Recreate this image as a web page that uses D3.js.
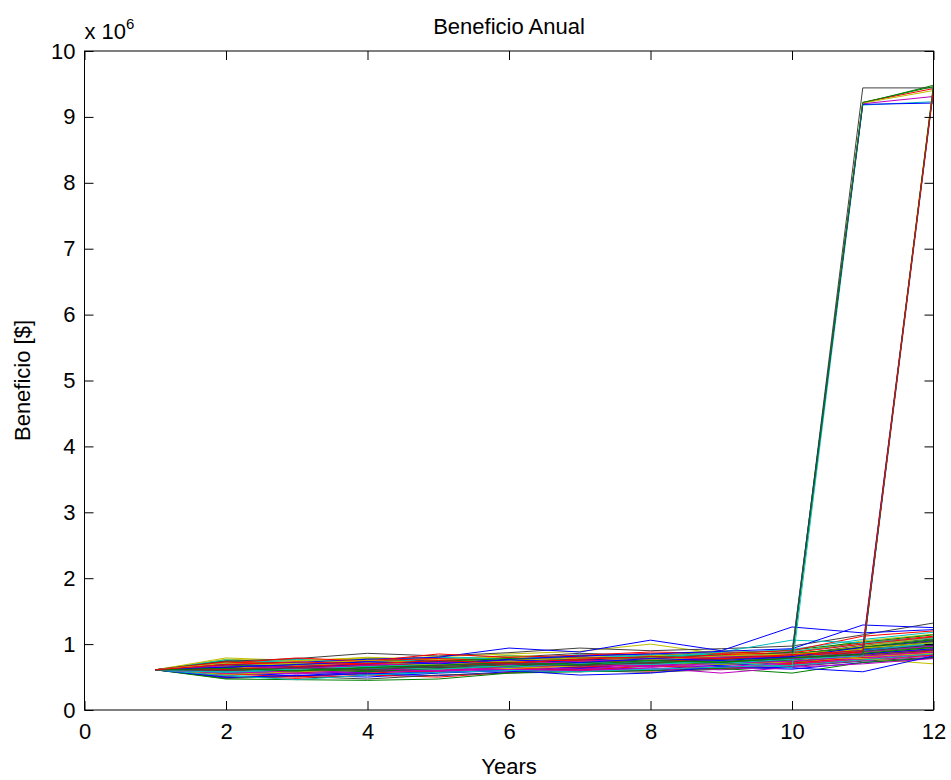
<!DOCTYPE html>
<html>
<head>
<meta charset="utf-8">
<script src="https://cdn.jsdelivr.net/npm/d3@7"></script>
<style>
  body { margin: 0; background: #fff; }
  text { font-family: "Liberation Sans", Arial, Helvetica, sans-serif; fill: #000; }
  .axis path.domain { display: none; }
  .axis line { stroke: #000; }
</style>
</head>
<body>
<div id="wrapper"></div>
<script>
// years on the x axis
const years = [1, 2, 3, 4, 5, 6, 7, 8, 9, 10, 11, 12]

// simulated runs, profit in millions of $ per year
const baseRuns = [
  [0.61,0.66,0.62,0.70,0.68,0.73,0.79,0.76,0.82,0.85,0.95,1.05],
  [0.61,0.58,0.63,0.60,0.66,0.71,0.68,0.74,0.72,0.78,0.86,0.93],
  [0.61,0.72,0.69,0.74,0.79,0.76,0.82,0.86,0.81,0.88,1.02,1.12],
  [0.61,0.52,0.56,0.54,0.59,0.63,0.61,0.66,0.70,0.67,0.76,0.84],
  [0.61,0.68,0.73,0.70,0.66,0.74,0.71,0.78,0.83,0.80,0.92,1.00],
  [0.61,0.63,0.58,0.64,0.70,0.67,0.73,0.70,0.76,0.82,0.89,0.97],
  [0.61,0.75,0.71,0.78,0.74,0.80,0.86,0.83,0.88,0.84,0.98,1.08],
  [0.61,0.49,0.53,0.50,0.56,0.60,0.65,0.62,0.68,0.72,0.80,0.88],
  [0.61,0.64,0.69,0.66,0.72,0.69,0.75,0.80,0.77,0.83,0.93,1.02],
  [0.61,0.60,0.56,0.62,0.58,0.65,0.70,0.67,0.73,0.76,0.84,0.91],
  [0.61,0.70,0.66,0.63,0.69,0.75,0.72,0.77,0.74,0.79,0.90,0.99],
  [0.61,0.55,0.60,0.57,0.63,0.59,0.64,0.69,0.66,0.71,0.79,0.86],
  [0.61,0.77,0.74,0.80,0.76,0.83,0.79,0.85,0.90,0.87,1.05,1.15],
  [0.61,0.62,0.67,0.72,0.68,0.64,0.70,0.75,0.80,0.77,0.87,0.95],
  [0.61,0.57,0.52,0.58,0.62,0.68,0.64,0.71,0.68,0.74,0.82,0.90],
  [0.61,0.67,0.64,0.69,0.73,0.70,0.76,0.73,0.79,0.86,0.94,1.03],
  [0.61,0.51,0.48,0.53,0.50,0.57,0.62,0.59,0.64,0.69,0.77,0.83],
  [0.61,0.73,0.77,0.72,0.78,0.82,0.78,0.84,0.80,0.89,1.00,1.09],
  [0.61,0.65,0.61,0.67,0.64,0.70,0.66,0.72,0.77,0.74,0.85,0.92],
  [0.61,0.59,0.64,0.61,0.67,0.63,0.69,0.66,0.71,0.75,0.83,0.89],
  [0.61,0.69,0.65,0.71,0.75,0.72,0.77,0.81,0.78,0.84,0.96,1.06],
  [0.61,0.54,0.59,0.55,0.52,0.58,0.63,0.60,0.65,0.62,0.72,0.79],
  [0.61,0.74,0.70,0.76,0.72,0.79,0.75,0.80,0.85,0.91,1.03,1.14],
  [0.61,0.61,0.57,0.63,0.67,0.62,0.68,0.71,0.75,0.72,0.81,0.87],
  [0.61,0.66,0.71,0.67,0.63,0.69,0.74,0.70,0.76,0.81,0.91,1.01],
  [0.61,0.56,0.61,0.65,0.61,0.66,0.62,0.68,0.64,0.70,0.78,0.85],
  [0.61,0.71,0.75,0.79,0.76,0.81,0.77,0.82,0.87,0.83,0.97,1.10],
  [0.61,0.48,0.51,0.47,0.53,0.56,0.60,0.57,0.62,0.66,0.74,0.80],
  [0.61,0.63,0.66,0.62,0.69,0.74,0.71,0.76,0.73,0.80,0.91,0.98],
  [0.61,0.68,0.64,0.68,0.71,0.67,0.72,0.78,0.75,0.81,0.88,0.96],
  [0.61,0.58,0.62,0.59,0.64,0.68,0.65,0.70,0.74,0.71,0.80,0.90],
  [0.61,0.76,0.72,0.75,0.80,0.77,0.84,0.80,0.86,0.92,1.07,1.18],
  [0.61,0.53,0.57,0.61,0.57,0.62,0.58,0.64,0.61,0.67,0.75,0.82],
  [0.61,0.64,0.60,0.65,0.62,0.68,0.73,0.69,0.75,0.78,0.87,0.94],
  [0.61,0.70,0.67,0.73,0.70,0.76,0.81,0.77,0.83,0.80,0.93,1.04],
  [0.61,0.60,0.65,0.69,0.65,0.71,0.67,0.74,0.71,0.77,0.85,0.93],
  [0.61,0.67,0.63,0.60,0.66,0.72,0.69,0.73,0.79,0.85,0.95,1.07],
  [0.61,0.55,0.50,0.56,0.60,0.64,0.60,0.67,0.63,0.69,0.76,0.84],
  [0.61,0.72,0.76,0.73,0.69,0.75,0.80,0.76,0.82,0.79,0.90,1.00],
  [0.61,0.62,0.59,0.64,0.68,0.65,0.71,0.68,0.73,0.78,0.88,0.97],
  [0.61,0.79,0.75,0.77,0.81,0.85,0.89,1.00,0.85,0.82,0.78,0.70],
  [0.61,0.74,0.78,0.86,0.82,0.87,0.94,0.90,0.93,0.97,1.14,1.32],
  [0.61,0.69,0.72,0.77,0.80,0.94,0.88,1.06,0.90,1.26,1.17,1.22],
  [0.61,0.47,0.46,0.45,0.47,0.56,0.58,0.60,0.63,0.56,0.72,0.79],
  [0.61,0.71,0.79,0.74,0.85,0.80,0.83,0.88,0.86,0.90,1.12,1.20],
  [0.61,0.66,0.70,0.68,0.73,0.78,0.75,0.80,0.88,1.06,1.02,1.10],
  [0.61,0.57,0.55,0.58,0.60,0.62,0.60,0.64,0.56,0.65,0.70,0.78],
  [0.61,0.54,0.58,0.62,0.66,0.63,0.67,0.72,0.69,0.73,0.81,0.86],
  [0.61,0.59,0.63,0.67,0.64,0.69,0.73,0.70,0.76,0.73,0.83,0.91],
  [0.61,0.50,0.52,0.55,0.57,0.60,0.53,0.56,0.66,0.64,0.58,0.82],
  [0.61,0.65,0.62,0.58,0.63,0.66,0.70,0.73,0.70,0.76,0.86,0.95],
  [0.61,0.73,0.69,0.75,0.78,0.74,0.80,0.77,0.84,0.87,1.00,1.11],
  [0.61,0.52,0.46,0.53,0.57,0.60,0.58,0.62,0.65,0.68,0.76,0.85],
  [0.61,0.56,0.60,0.63,0.59,0.65,0.69,0.66,0.71,0.74,0.82,0.88],
  [0.61,0.67,0.71,0.75,0.72,0.78,0.74,0.79,0.75,0.81,0.94,1.02],
  [0.61,0.62,0.66,0.62,0.67,0.71,0.68,0.74,0.79,0.76,0.89,0.99],
  [0.61,0.64,0.68,0.73,0.71,0.77,0.82,0.85,0.89,0.93,1.29,1.25],
]

// runs that jump in year 11
const jumpAt11 = [
  [0.61,0.68,0.65,0.70,0.74,0.78,0.75,0.81,0.79,0.88,9.21,9.48],
  [0.61,0.60,0.64,0.67,0.70,0.68,0.74,0.78,0.76,0.84,9.22,9.43],
  [0.61,0.57,0.61,0.64,0.62,0.67,0.71,0.69,0.74,0.64,9.18,9.23],
  [0.61,0.63,0.67,0.71,0.68,0.73,0.70,0.76,0.80,0.86,9.20,9.31],
  [0.61,0.66,0.62,0.66,0.70,0.74,0.72,0.77,0.75,0.83,9.21,9.40],
  [0.61,0.65,0.69,0.66,0.72,0.75,0.79,0.77,0.82,0.80,9.44,9.44],
  [0.61,0.70,0.66,0.69,0.73,0.71,0.77,0.74,0.78,0.82,9.19,9.21],
  [0.61,0.64,0.60,0.65,0.69,0.66,0.72,0.75,0.73,0.79,9.22,9.46],
]

// runs that jump in year 12
const jumpAt12 = [
  [0.61,0.62,0.66,0.70,0.67,0.72,0.76,0.73,0.78,0.82,0.88,9.45],
  [0.61,0.58,0.62,0.66,0.69,0.65,0.70,0.74,0.71,0.77,0.82,9.40],
  [0.61,0.67,0.63,0.68,0.72,0.69,0.74,0.78,0.81,0.78,0.86,9.43],
  [0.61,0.71,0.68,0.72,0.69,0.75,0.79,0.76,0.82,0.85,0.92,9.50],
  [0.61,0.60,0.64,0.61,0.66,0.70,0.67,0.72,0.77,0.80,0.84,9.47],
  [0.61,0.65,0.69,0.73,0.70,0.76,0.72,0.78,0.75,0.81,0.95,9.44],
  [0.61,0.63,0.59,0.64,0.68,0.72,0.69,0.75,0.72,0.79,0.85,9.48],
  [0.61,0.69,0.73,0.70,0.75,0.71,0.77,0.81,0.78,0.84,0.90,9.42],
]

const xTicks = [0, 2, 4, 6, 8, 10, 12]
const yTicks = [0, 1, 2, 3, 4, 5, 6, 7, 8, 9, 10]

function drawLineChart() {

  // 1. Access data
  const runs = baseRuns.concat(jumpAt11, jumpAt12)
  const xAccessor = (d, i) => years[i]
  const yAccessor = d => d * 1e6

  // 2. Create chart dimensions
  let dimensions = {
    width: 951,
    height: 780,
    margin: { top: 51, right: 17.5, bottom: 70, left: 84.5 },
  }
  dimensions.boundedWidth = dimensions.width - dimensions.margin.left - dimensions.margin.right
  dimensions.boundedHeight = dimensions.height - dimensions.margin.top - dimensions.margin.bottom

  // 3. Draw canvas
  const wrapper = d3.select("#wrapper")
    .append("svg")
    .attr("width", dimensions.width)
    .attr("height", dimensions.height)

  wrapper.append("rect")
    .attr("width", dimensions.width)
    .attr("height", dimensions.height)
    .attr("fill", "#fff")

  const bounds = wrapper.append("g")
    .attr("transform", `translate(${dimensions.margin.left}, ${dimensions.margin.top})`)

  // 4. Create scales
  const xScale = d3.scaleLinear()
    .domain([0, 12])
    .range([0, dimensions.boundedWidth])

  const yScale = d3.scaleLinear()
    .domain([0, 10e6])
    .range([dimensions.boundedHeight, 0])

  // matlab default colour order
  const colorScale = d3.scaleOrdinal()
    .domain(d3.range(7))
    .range(["#0000ff", "#008000", "#ff0000", "#00bfbf", "#bf00bf", "#bfbf00", "#404040"])

  // 5. Draw data
  const lineGenerator = d3.line()
    .x((d, i) => xScale(xAccessor(d, i)))
    .y(d => yScale(yAccessor(d)))

  bounds.append("g")
    .selectAll("path")
    .data(runs)
    .join("path")
    .attr("d", lineGenerator)
    .attr("fill", "none")
    .attr("stroke", (d, i) => colorScale(i % 7))
    .attr("stroke-width", 1)

  // 6. Draw peripherals
  const fontSize = 22
  const tickLen = 9

  const xAxis = bounds.append("g")
    .attr("class", "axis")
    .attr("transform", `translate(0, ${dimensions.boundedHeight})`)
    .call(d3.axisBottom(xScale).tickValues(xTicks).tickSize(-tickLen).tickSizeOuter(0).tickPadding(13))
  xAxis.selectAll("text").style("font-size", fontSize + "px")

  bounds.append("g")
    .attr("class", "axis")
    .call(d3.axisTop(xScale).tickValues(xTicks).tickSize(-tickLen).tickSizeOuter(0).tickFormat(""))

  const yAxis = bounds.append("g")
    .attr("class", "axis")
    .call(d3.axisLeft(yScale).tickValues(yTicks.map(d => d * 1e6)).tickSize(-tickLen)
      .tickSizeOuter(0).tickPadding(9).tickFormat(d => d / 1e6))
  yAxis.selectAll("text").style("font-size", fontSize + "px")

  bounds.append("g")
    .attr("class", "axis")
    .attr("transform", `translate(${dimensions.boundedWidth}, 0)`)
    .call(d3.axisRight(yScale).tickValues(yTicks.map(d => d * 1e6)).tickSize(-tickLen)
      .tickSizeOuter(0).tickFormat(""))

  bounds.append("rect")
    .attr("width", dimensions.boundedWidth)
    .attr("height", dimensions.boundedHeight)
    .attr("fill", "none")
    .attr("stroke", "#000")
    .attr("stroke-width", 1)

  // exponent label
  const expLabel = bounds.append("text")
    .attr("x", 0)
    .attr("y", -12)
    .style("font-size", fontSize + "px")
  expLabel.append("tspan").text("x 10")
  expLabel.append("tspan")
    .attr("dy", -10)
    .style("font-size", "15px")
    .text("6")

  bounds.append("text")
    .attr("x", dimensions.boundedWidth / 2)
    .attr("y", -17)
    .attr("text-anchor", "middle")
    .style("font-size", fontSize + "px")
    .text("Beneficio Anual")

  bounds.append("text")
    .attr("x", dimensions.boundedWidth / 2)
    .attr("y", dimensions.boundedHeight + 64)
    .attr("text-anchor", "middle")
    .style("font-size", fontSize + "px")
    .text("Years")

  bounds.append("text")
    .attr("transform", `translate(${-dimensions.margin.left + 30}, ${dimensions.boundedHeight / 2}) rotate(-90)`)
    .attr("text-anchor", "middle")
    .style("font-size", fontSize + "px")
    .text("Beneficio [$]")
}
drawLineChart()
</script>
</body>
</html>
